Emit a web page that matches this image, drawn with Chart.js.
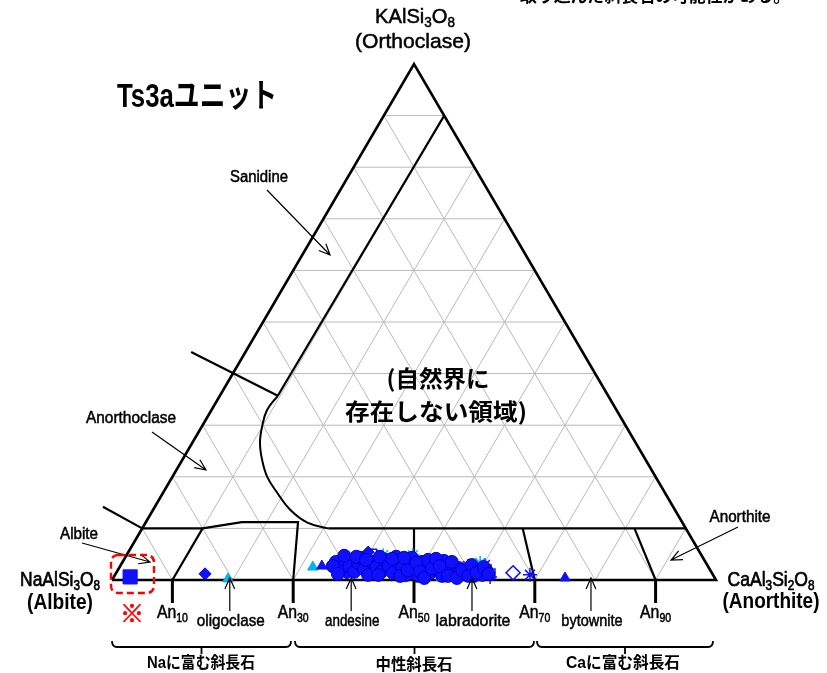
<!DOCTYPE html>
<html>
<head>
<meta charset="utf-8">
<script src="https://cdn.jsdelivr.net/npm/chart.js@4.4.1/dist/chart.umd.min.js"></script>
<style>
html, body { margin: 0; padding: 0; background: #fff; }
#wrap { width: 827px; height: 673px; }
</style>
</head>
<body>
<div id="wrap"><canvas id="myChart" width="827" height="673"></canvas></div>
<script>
// all compositions are [An, Or] in %, Ab = 100 - An - Or

var gridLevels = [10, 20, 30, 40, 50, 60, 70, 80, 90];
var anTicks = [10, 30, 50, 70, 90];
var plagNames = ['oligoclase', 'andesine', 'labradorite', 'bytownite'];
var plagNameAn = [19.5, 39.6, 59.6, 79.3];

// field boundaries
var frame = [[0, 0], [100, 0], [0, 100], [0, 0]];
var sanidineLine = [[10, 90], [9.6, 35.7]];
var solvusCurve = [[9.6, 35.7], [9.2, 32.9], [10.0, 29.7], [11.2, 26.6], [13.2, 23.3], [15.7, 20.0],
  [18.9, 16.9], [22.7, 13.6], [26.8, 11.1], [30.8, 10.0]];
var sanAnorthoLine = [[-9.0, 44.2], [9.6, 35.7]];
var anorthoAlbLine = [[-8.6, 14.2], [0, 10]];
var albiteField = [[0, 10], [10, 10], [15.9, 11.2], [25.2, 11.2], [30, 0]];
var an10Line = [[10, 0], [10, 10]];
var plagTop = [[30.8, 10], [90, 10]];
var an50Line = [[50, 0], [45, 10]];
var an70Line = [[70, 0], [63, 10]];
var an90Line = [[90, 0], [81.5, 10]];

// analyses
var blueCircles = [[35.3, 3.5], [36.6, 2.3], [36.6, 3.9], [38.0, 2.7], [39.3, 1.6], [39.1, 3.3], [40.7, 2.1],
  [41.9, 1.0], [41.3, 3.5], [42.5, 2.5], [43.8, 1.6], [43.3, 3.9], [44.5, 2.7], [45.8, 1.4], [45.6, 3.5],
  [46.9, 2.3], [48.2, 1.0], [47.7, 3.3], [48.9, 2.1], [50.3, 0.8], [49.6, 3.5], [50.7, 2.5], [52.0, 1.4],
  [51.8, 3.1], [53.0, 1.9], [54.3, 0.8], [53.9, 2.7], [55.1, 1.7], [56.3, 1.0], [56.3, 2.3], [57.8, 1.6],
  [58.1, 2.3], [59.5, 0.8], [59.7, 1.7], [60.8, 1.0], [61.0, 1.9], [36.1, 4.7], [38.9, 4.3], [42.1, 4.5],
  [44.8, 4.5], [47.5, 4.3], [50.4, 3.9], [53.1, 3.7], [35.2, 2.7], [36.8, 1.2], [38.2, 4.5], [40.1, 3.9],
  [43.6, 1.0], [44.3, 4.1], [47.3, 0.8], [46.2, 4.3], [48.0, 1.9], [48.7, 3.3], [50.2, 1.6], [51.5, 0.4],
  [51.8, 2.3], [51.6, 4.1], [52.9, 2.7], [55.2, 0.8], [54.5, 3.5], [56.9, 0.4], [57.0, 1.9], [58.6, 0.8],
  [58.1, 2.9], [59.6, 1.4], [60.3, 2.5], [61.7, 1.2]];
var blueDiamonds = [[14.8, 1.2], [36.9, 1.7], [38.3, 1.2], [39.7, 5.4]];
var blueTriangles = [[33.4, 2.7], [74.8, 0.4]];
var cyanTriangles = [[32.0, 2.5], [19.1, 0.2]];
var cyanCircles = [[45.9, 1.9], [54.1, 0.4], [56.7, 1.2], [59.1, 0.4], [48.3, 0.4]];
var cyanStars = [[39.4, 3.3], [42.5, 4.8], [47.4, 4.8], [59.3, 3.3]];
var blueStars = [[68.7, 1.0], [60.3, 2.9], [57.6, 2.7]];
var bluePlus = [[55.0, 2.9], [62.3, 0.6]];
var blueOpenDiamond = [[65.7, 1.4]];
var blueOpenSquare = [[62.0, 1.2], [40.5, 5.0]];
var blueDash = [[38.0, 5.2]];
var albiteSquare = [[2.7, 0.6]];

var BLUE = '#1010ff';
var BLUE_EDGE = '#0000c8';
var CYAN = '#00b4f0';
var LAT = '"Liberation Sans", Arial, sans-serif';
var JP = '"Noto Sans CJK JP", sans-serif';

function tern(list) {
  return list.map(function (p) { return { x: p[0] + p[1] / 2, y: p[1] }; });
}

function lineSet(pts, color, width, order, tension) {
  return {
    data: tern(pts), showLine: true, pointRadius: 0, borderColor: color,
    borderWidth: width, tension: tension || 0, fill: false, order: order
  };
}

function pointSet(pts, style, radius, fillCol, edgeCol, bw) {
  return {
    data: tern(pts), showLine: false, pointStyle: style, pointRadius: radius,
    backgroundColor: fillCol, borderColor: edgeCol, borderWidth: bw, order: 0
  };
}

var datasets = [];
gridLevels.forEach(function (k) {
  datasets.push(lineSet([[0, k], [100 - k, k]], '#b9b9b9', 1, 3));
  datasets.push(lineSet([[k, 0], [k, 100 - k]], '#b9b9b9', 1, 3));
  datasets.push(lineSet([[100 - k, 0], [0, 100 - k]], '#b9b9b9', 1, 3));
});
[sanidineLine, sanAnorthoLine, anorthoAlbLine, albiteField, an10Line, plagTop, an50Line, an70Line, an90Line]
  .forEach(function (l) { datasets.push(lineSet(l, '#000', 2.2, 2)); });
datasets.push(lineSet(solvusCurve, '#000', 2, 2, 0.4));
datasets.push(lineSet(frame, '#000', 2.6, 1));

datasets.push(pointSet(blueCircles, 'circle', 6.5, BLUE, BLUE_EDGE, 1));
datasets.push(pointSet(cyanCircles, 'circle', 4, CYAN, CYAN, 1));
datasets.push(pointSet(blueDiamonds, 'rectRot', 6, BLUE, BLUE_EDGE, 1));
datasets.push(pointSet(blueTriangles, 'triangle', 6, BLUE, BLUE, 1));
datasets.push(pointSet(cyanTriangles, 'triangle', 6, CYAN, CYAN, 1));
datasets.push(pointSet(cyanStars, 'star', 7, CYAN, CYAN, 1.5));
datasets.push(pointSet(blueStars, 'star', 7, BLUE, BLUE, 1.5));
datasets.push(pointSet(bluePlus, 'cross', 7, BLUE, BLUE, 1.5));
datasets.push(pointSet(blueOpenDiamond, 'rectRot', 7, '#fff', BLUE, 1.6));
datasets.push(pointSet(blueOpenSquare, 'rect', 7, 'rgba(0,0,0,0)', BLUE, 1.4));
datasets.push(pointSet(blueDash, 'line', 6, BLUE, BLUE, 2));
datasets.push(pointSet(albiteSquare, 'rect', 10, BLUE, BLUE, 1));

// triangle corners on the page
var CORNER = { left: 112, right: 716, base: 580, apex: 64 };
var ppx = (CORNER.right - CORNER.left) / 100;
var ppy = (CORNER.base - CORNER.apex) / 100;
var xMin = -CORNER.left / ppx, xMax = xMin + 827 / ppx;
var yMax = CORNER.base / ppy, yMin = yMax - 673 / ppy;

// text: parts are [string, isSubscript]
function rich(ctx, parts, x, y, size, width, weight, family, color, stroke) {
  var sub = Math.round(size * 0.68);
  var total = 0;
  parts.forEach(function (p) {
    ctx.font = weight + ' ' + (p[1] ? sub : size) + 'px ' + family;
    p.w = ctx.measureText(p[0]).width;
    total += p.w;
  });
  var s = width ? width / total : 1;
  ctx.save();
  ctx.translate(x, y);
  ctx.scale(s, 1);
  ctx.fillStyle = color || '#000';
  ctx.strokeStyle = color || '#000';
  ctx.lineWidth = stroke || 0;
  ctx.textBaseline = 'middle';
  ctx.textAlign = 'left';
  var cx = -total / 2;
  parts.forEach(function (p) {
    ctx.font = weight + ' ' + (p[1] ? sub : size) + 'px ' + family;
    var dy = p[1] ? size * 0.3 : 0;
    ctx.fillText(p[0], cx, dy);
    if (stroke) ctx.strokeText(p[0], cx, dy);
    cx += p.w;
  });
  ctx.restore();
}

function arrow(ctx, x1, y1, x2, y2) {
  var a = Math.atan2(y2 - y1, x2 - x1), h = 12, sp = 0.42;
  ctx.beginPath();
  ctx.moveTo(x1, y1); ctx.lineTo(x2, y2);
  ctx.moveTo(x2 - h * Math.cos(a - sp), y2 - h * Math.sin(a - sp));
  ctx.lineTo(x2, y2);
  ctx.lineTo(x2 - h * Math.cos(a + sp), y2 - h * Math.sin(a + sp));
  ctx.stroke();
}

function brace(ctx, x1, x2, y) {
  var m = (x1 + x2) / 2;
  ctx.beginPath();
  ctx.moveTo(x1, y - 6); ctx.quadraticCurveTo(x1, y, x1 + 5, y);
  ctx.lineTo(x2 - 5, y); ctx.quadraticCurveTo(x2, y, x2, y - 6);
  ctx.moveTo(m, y); ctx.lineTo(m, y + 7);
  ctx.stroke();
}

var labels = [
  { p: [['取り込んだ斜長石の可能性がある。', 0]], x: 655, y: -4, s: 17, w: 270, wt: 'bold', f: JP },
  { p: [['KAlSi', 0], ['3', 1], ['O', 0], ['8', 1]], x: 415, y: 17, s: 21, w: 80, wt: 'normal', f: LAT, k: 0.5 },
  { p: [['(Orthoclase)', 0]], x: 413, y: 42, s: 21, w: 116, wt: 'normal', f: LAT, k: 0.5 },
  { p: [['Ts3aユニット', 0]], x: 197, y: 98, s: 33, w: 160, wt: 'bold', f: LAT + ',' + JP },
  { p: [['Sanidine', 0]], x: 259, y: 178, s: 16, w: 58, wt: 'normal', f: LAT, k: 0.5 },
  { p: [['Anorthoclase', 0]], x: 131, y: 419, s: 16, w: 90, wt: 'normal', f: LAT, k: 0.5 },
  { p: [['Albite', 0]], x: 79, y: 535, s: 16, w: 38, wt: 'normal', f: LAT, k: 0.5 },
  { p: [['Anorthite', 0]], x: 740, y: 518, s: 16, w: 61, wt: 'normal', f: LAT, k: 0.5 },
  { p: [['NaAlSi', 0], ['3', 1], ['O', 0], ['8', 1]], x: 60, y: 580, s: 21, w: 80, wt: 'normal', f: LAT, k: 0.7 },
  { p: [['(Albite)', 0]], x: 60, y: 603, s: 22, w: 66, wt: 'bold', f: LAT },
  { p: [['CaAl', 0], ['3', 1], ['Si', 0], ['2', 1], ['O', 0], ['8', 1]], x: 771, y: 580, s: 21, w: 87, wt: 'normal', f: LAT, k: 0.7 },
  { p: [['(Anorthite)', 0]], x: 771, y: 602, s: 22, w: 97, wt: 'bold', f: LAT },
  { p: [['(自然界に', 0]], x: 438, y: 378, s: 23, w: 103, wt: 'bold', f: JP },
  { p: [['存在しない領域)', 0]], x: 436, y: 411, s: 23, w: 182, wt: 'bold', f: JP },
  { p: [['Naに富む斜長石', 0]], x: 201, y: 664, s: 16, w: 108, wt: 'bold', f: LAT + ',' + JP },
  { p: [['中性斜長石', 0]], x: 414, y: 664, s: 16, w: 77, wt: 'bold', f: JP },
  { p: [['Caに富む斜長石', 0]], x: 623, y: 664, s: 16, w: 114, wt: 'bold', f: LAT + ',' + JP },
  { p: [['※', 0]], x: 132, y: 613, s: 24, w: 0, wt: 'bold', f: JP, c: '#ff0000', k: 0.6 }
];

var decor = {
  id: 'decor',
  afterDatasetsDraw: function (chart) {
    var ctx = chart.ctx, xs = chart.scales.x, ys = chart.scales.y;
    var baseY = ys.getPixelForValue(0);
    ctx.save();
    ctx.lineCap = 'butt';

    // An ticks below the base
    ctx.strokeStyle = '#000';
    ctx.lineWidth = 3;
    anTicks.forEach(function (a) {
      var px = xs.getPixelForValue(a);
      ctx.beginPath(); ctx.moveTo(px, baseY); ctx.lineTo(px, baseY + 23); ctx.stroke();
      rich(ctx, [['An', 0], [String(a), 1]], px, baseY + 33, 18, 31, 'normal', LAT, '#000', 0.5);
    });

    // plagioclase names with arrows
    ctx.lineWidth = 1.2;
    plagNames.forEach(function (n, i) {
      var px = xs.getPixelForValue(plagNameAn[i]);
      arrow(ctx, px, baseY + 31, px, baseY - 2);
      rich(ctx, [[n, 0]], px + 1, baseY + 41, 17, n.length * 6.8, 'normal', LAT, '#000', 0.5);
    });

    // field name arrows
    arrow(ctx, 267, 190, 330, 255);
    arrow(ctx, 152, 432, 206, 470);
    arrow(ctx, 82, 543, 150, 562);
    arrow(ctx, 738, 527, 671, 560);

    // braces
    ctx.lineWidth = 1.8;
    brace(ctx, 112, 291, 647);
    brace(ctx, 295, 534, 647);
    brace(ctx, 537, 713, 647);

    // red dashed box round the albite point
    ctx.strokeStyle = '#ff0000';
    ctx.lineWidth = 2.4;
    ctx.setLineDash([7, 4]);
    ctx.beginPath();
    ctx.roundRect(111, 555, 43, 38, 7);
    ctx.stroke();
    ctx.setLineDash([]);

    labels.forEach(function (l) {
      rich(ctx, l.p, l.x, l.y, l.s, l.w, l.wt, l.f, l.c, l.k);
    });
    ctx.restore();
  }
};

var ctx = document.getElementById('myChart').getContext('2d');
var chart = new Chart(ctx, {
  type: 'scatter',
  data: { datasets: datasets },
  options: {
    responsive: false,
    animation: false,
    events: [],
    layout: { padding: 0, autoPadding: false },
    plugins: { legend: { display: false }, tooltip: { enabled: false } },
    scales: {
      x: { type: 'linear', min: xMin, max: xMax, display: false },
      y: { type: 'linear', min: yMin, max: yMax, display: false }
    }
  },
  plugins: [decor]
});
</script>
</body>
</html>
